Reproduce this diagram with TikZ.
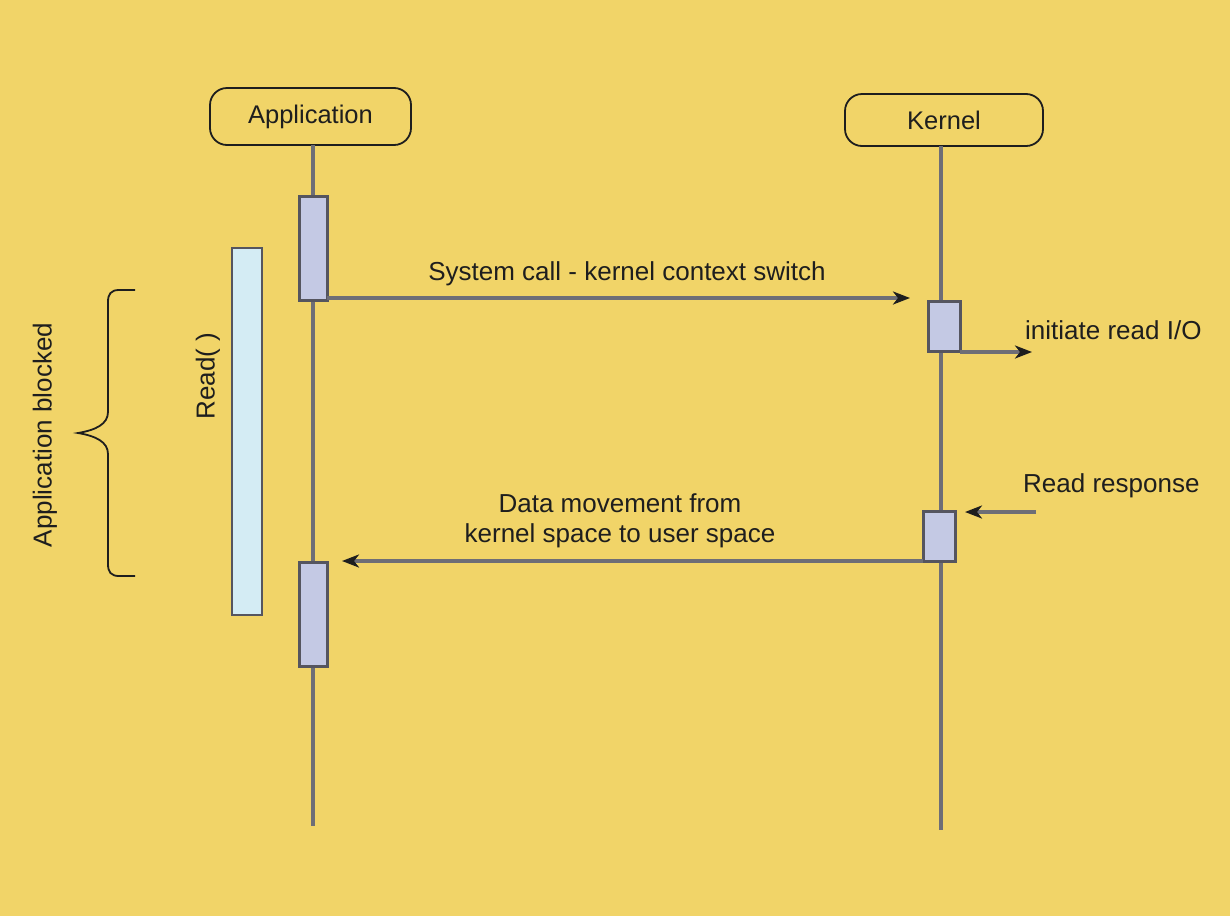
\documentclass[tikz,border=0pt]{standalone}
\usepackage{fontspec}
\setmainfont{Liberation Sans}
\usetikzlibrary{arrows.meta}
\definecolor{bgyellow}{RGB}{241,212,104}
\definecolor{linegray}{RGB}{110,110,118}
\definecolor{actfill}{RGB}{196,201,228}
\definecolor{actdraw}{RGB}{85,85,95}
\definecolor{readfill}{RGB}{212,236,244}
\definecolor{txt}{RGB}{30,30,30}
\tikzset{
  actor/.style={draw=txt, line width=1.8pt, rounded corners=17pt, fill=none, font=\fontsize{25.5}{30}\selectfont, text=txt, outer sep=0pt},
  life/.style={draw=linegray, line width=3.4pt},
  actbox/.style={draw=actdraw, line width=3pt, fill=actfill, minimum width=28pt, inner sep=0pt, outer sep=0pt},
  msg/.style={draw=linegray, line width=3.4pt, -{Stealth[length=17pt,width=13pt,inset=5pt,color=txt]}},
  lbl/.style={font=\fontsize{26}{30.5}\selectfont, text=txt, inner sep=0pt, align=center},
}
\begin{document}
\begin{tikzpicture}[x=1pt,y=-1pt]
\fill[bgyellow] (0,0) rectangle (1230,916);
\useasboundingbox (0,0) rectangle (1230,916);
% actors
\node[actor, minimum width=201pt, minimum height=57pt] (app) at (310.5,116.5) {Application};
\node[actor, minimum width=198pt, minimum height=52pt] (ker) at (944,120) {Kernel};
\coordinate (append) at (313,826);
\coordinate (kerend) at (941,830);
\draw[life] (app.south -| append) -- (append);
\draw[life] (ker.south -| kerend) -- (kerend);
% read bar
\node[draw=actdraw, line width=2.8pt, fill=readfill, minimum width=30pt, minimum height=367pt, inner sep=0pt, outer sep=0pt] (readbar) at (247,431.5) {};
\node[lbl, rotate=90] (readlbl) at (208,376) {Read( )};
% brace
\draw[txt, line width=1.8pt] (135,290) -- (119,290) .. controls (111,290) and (108,294) .. (108,302) -- (108,412) .. controls (108,424) and (96,430) .. (78,433) .. controls (96,436) and (108,442) .. (108,454) -- (108,564) .. controls (108,572) and (111,576) .. (119,576) -- (135,576);
\node[lbl, rotate=90] (blocked) at (45,435) {Application blocked};
% activations
\node[actbox, minimum height=104pt] (a1) at (313,248) {};
\node[actbox, minimum height=104pt] (a2) at (313,614) {};
\node[actbox, minimum width=32pt, minimum height=50pt] (k1) at (944,326) {};
\node[actbox, minimum width=32pt, minimum height=50pt] (k2) at (939,536) {};
% messages
\draw[msg] ([yshift=2pt]a1.south east) -- ([xshift=-18pt,yshift=3pt]k1.north west);
\node[lbl] (syscall) at (627,274) {System call - kernel context switch};
\coordinate (ioend) at (1032,352);
\draw[msg] ([yshift=-1pt]k1.south east) -- (ioend);
\node[lbl, anchor=west] (initlbl) at (1025,330) {initiate read I/O};
\coordinate (respstart) at (1036,512);
\draw[msg] (respstart) -- ([xshift=10pt]k2.north east |- respstart);
\node[lbl, anchor=west] (resplbl) at (1023,486) {Read response};
\draw[msg] (k2.south west) -- ([xshift=15pt]a2.north east |- k2.south west);
\node[lbl] (datalbl) at (620,521) {Data movement from\\kernel space to user space};
\end{tikzpicture}
\end{document}
